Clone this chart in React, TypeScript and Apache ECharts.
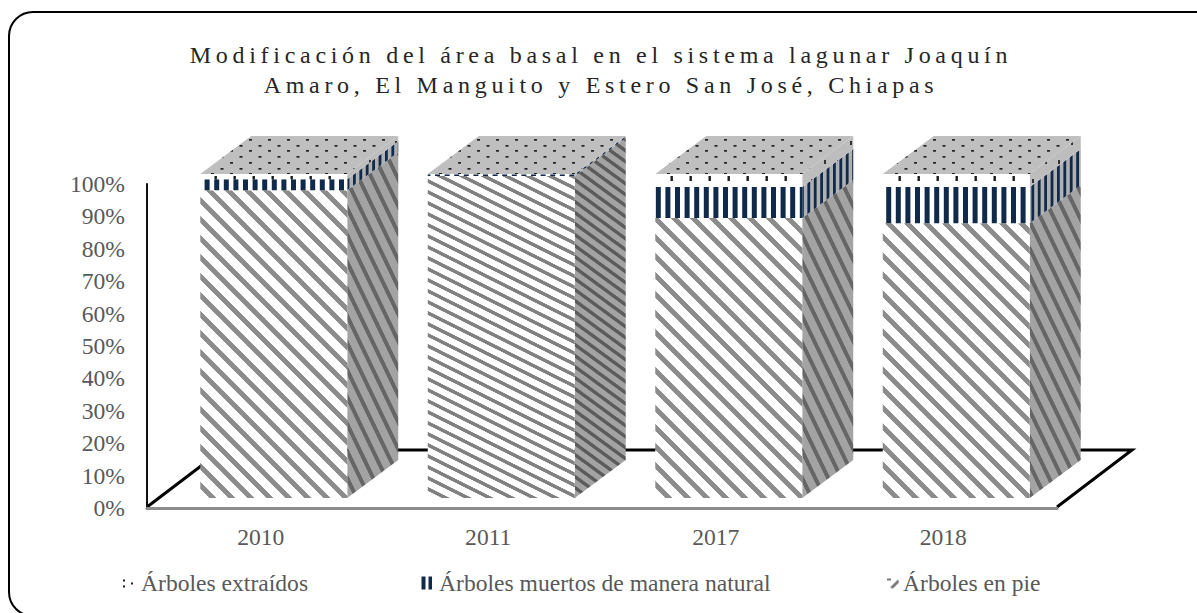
import React, { useEffect, useRef } from "react";
import * as echarts from "echarts";

const categories = ["2010", "2011", "2017", "2018"];
const enPie = [95, 99.4, 86.4, 84.8];
const muertos = [3.4, 0.5, 9.6, 11.2];
const extraidos = [1.6, 0.1, 4, 4];
const seriesNames = ["Árboles extraídos", "Árboles muertos de manera natural", "Árboles en pie"];
const titleLines = ["Modificación del área basal en el sistema lagunar Joaquín", "Amaro, El Manguito y Estero San José, Chiapas"];

const FLATTER = 1; // the 2011 column has a denser hatch in the reference

function tile(w: number, h: number, draw: (c: CanvasRenderingContext2D) => void) {
  const cv = document.createElement("canvas");
  cv.width = w;
  cv.height = h;
  const c = cv.getContext("2d")!;
  draw(c);
  return cv;
}
function stripes(w: number, h: number, bg: string, fg: string, lw: number) {
  return tile(w, h, (c) => {
    c.fillStyle = bg;
    c.fillRect(0, 0, w, h);
    c.strokeStyle = fg;
    c.lineWidth = lw;
    for (let i = -2; i <= 2; i++) {
      for (let j = -2; j <= 2; j++) {
        c.beginPath();
        c.moveTo(i * w - w, j * h - h);
        c.lineTo(i * w + 2 * w, j * h + 2 * h);
        c.stroke();
      }
    }
  });
}
function vbars(w: number, h: number, count: number, start: number, bg: string, fg: string, bw: number) {
  return tile(w, h, (c) => {
    c.fillStyle = bg;
    c.fillRect(0, 0, w, h);
    c.fillStyle = fg;
    for (let k = 0; k < count; k++) c.fillRect(start + (k * w) / count, 0, bw, h);
  });
}

export default function App() {
  const ref = useRef<HTMLDivElement>(null);
  useEffect(() => {
    document.body.style.margin = "0";
    const chart = echarts.init(ref.current!, undefined, { renderer: "svg" });

    const NAVY = "#0f2a4a";
    const frontA = stripes(19, 19, "#ffffff", "#8c8c8c", 4.5);
    const frontB = stripes(22, 11, "#ffffff", "#808080", 3);
    const sideA = stripes(13, 27, "#a3a3a3", "#666666", 3.5);
    const sideB = stripes(15, 11, "#a3a3a3", "#5c5c5c", 3);
    const frontM = vbars(48, 8, 5, 3, "#ffffff", NAVY, 5);
    const sideM = vbars(32, 8, 5, 1, "#b0b0b0", NAVY, 2.8);
    const frontE = tile(19, 19, (c) => {
      c.fillStyle = "#ffffff";
      c.fillRect(0, 0, 19, 19);
      c.fillStyle = "#1a1a1a";
      c.fillRect(5.5, 5, 2.4, 5);
    });
    const sideE = tile(13, 19, (c) => {
      c.fillStyle = "#bdbdbd";
      c.fillRect(0, 0, 13, 19);
      c.fillStyle = "#333333";
      c.fillRect(5, 8, 2, 4);
    });
    const topT = tile(19, 23, (c) => {
      c.fillStyle = "#bfbfbf";
      c.fillRect(0, 0, 19, 23);
      c.fillStyle = "#222222";
      const pts = [[2, 1], [11.5, 7], [2, 12], [11.5, 18]];
      for (const p of pts) c.fillRect(p[0], p[1], 3, 1.7);
    });
    const legendE = tile(12, 13, (c) => {
      c.fillStyle = "#ffffff";
      c.fillRect(0, 0, 12, 13);
      c.fillStyle = "#222222";
      c.fillRect(1, 3, 2, 2);
      c.fillRect(1, 9, 2, 2);
      c.fillRect(9, 6, 2, 2);
    });
    const legendM = vbars(14, 13, 2, 1.5, "#ffffff", NAVY, 4);
    const legendP = tile(12, 13, (c) => {
      c.fillStyle = "#ffffff";
      c.fillRect(0, 0, 12, 13);
      c.fillStyle = "#777777";
      c.fillRect(0, 2, 4, 2);
      c.beginPath();
      c.moveTo(11, 3);
      c.lineTo(12, 6);
      c.lineTo(6, 12);
      c.lineTo(3, 11);
      c.closePath();
      c.fill();
    });
    const pat = (image: any, x: number, y: number) => ({ image, repeat: "repeat", x, y } as any);

    const DX = 51;
    const DY = -38;
    const OX = 13;
    const OY = -10;

    const segmentSeries = (name: string, idx: number) => ({
      name,
      type: "custom",
      coordinateSystem: "cartesian2d",
      silent: true,
      clip: false,
      z: 5 - idx,
      encode: { x: 0, y: [1, 2] },
      data: categories.map((_, i) => {
        const base = idx === 0 ? enPie[i] + muertos[i] : idx === 1 ? enPie[i] : 0;
        const v = idx === 0 ? extraidos[i] : idx === 1 ? muertos[i] : enPie[i];
        return [i, base, base + v];
      }),
      renderItem: (params: any, api: any) => {
        const i = api.value(0);
        const lo = api.coord([i, api.value(1)]);
        const hi = api.coord([i, api.value(2)]);
        const band = api.size([1, 0])[0];
        const w = band * 0.646;
        const x0 = lo[0] - w / 2 + OX;
        const x1 = x0 + w;
        const y0 = lo[1] + OY;
        const y1 = hi[1] + OY;
        let front: any;
        let side: any;
        if (idx === 2) {
          front = pat(i === FLATTER ? frontB : frontA, x0, y0);
          side = pat(i === FLATTER ? sideB : sideA, x1, y0);
        } else if (idx === 1) {
          front = pat(frontM, x0, y0);
          side = pat(sideM, x1, y0);
        } else {
          front = pat(frontE, x0, y1);
          side = pat(sideE, x1, y1);
        }
        const children: any[] = [
          {
            type: "polygon",
            shape: { points: [[x1, y0], [x1 + DX, y0 + DY], [x1 + DX, y1 + DY], [x1, y1]] },
            style: { fill: side },
          },
          {
            type: "rect",
            shape: { x: x0, y: y1, width: w, height: y0 - y1 },
            style: { fill: front },
          },
        ];
        if (idx === 0) {
          children.push({
            type: "polygon",
            shape: { points: [[x0, y1], [x1, y1], [x1 + DX, y1 + DY], [x0 + DX, y1 + DY]] },
            style: { fill: pat(topT, x0, y1) },
          });
        }
        return { type: "group", children };
      },
    });

    const LABEL = "#595959";
    const FONT = "'Liberation Serif', 'Times New Roman', serif";
    const FS = 23.6;
    const legendPads = [
      [0, 0, 0, 2],
      [0, 0, 0, 2],
      [0, 0, 0, -1],
    ];
    const legendLefts = [117, 415, 882];

    chart.setOption({
      animation: false,
      textStyle: { fontFamily: FONT },
      title: {
        text: titleLines.join("\n"),
        left: 596,
        top: 35,
        textAlign: "center",
        textStyle: {
          fontFamily: FONT,
          fontSize: 24,
          fontWeight: "normal",
          color: "#262626",
          lineHeight: 30,
        },
      },
      legend: seriesNames.map((name, k) => ({
        data: [
          {
            name,
            itemStyle: { color: pat(k === 0 ? legendE : k === 1 ? legendM : legendP, 0, 0) },
          },
        ],
        left: legendLefts[k],
        top: 566,
        icon: "rect",
        itemWidth: 12,
        itemHeight: 13,
        selectedMode: false,
        textStyle: { fontFamily: FONT, fontSize: FS, color: LABEL, padding: legendPads[k] },
      })),
      grid: { left: 147, right: 140, top: 184, bottom: 105 },
      xAxis: {
        type: "category",
        data: categories,
        axisTick: { show: false },
        axisLine: { show: true, lineStyle: { color: "#8c8c8c", width: 3 } },
        axisLabel: { color: LABEL, fontSize: FS, fontFamily: FONT, margin: 17 },
      },
      yAxis: {
        type: "value",
        min: 0,
        max: 100,
        interval: 10,
        axisTick: { show: false },
        splitLine: { show: false },
        axisLine: { show: true, lineStyle: { color: "#111111", width: 2 } },
        axisLabel: { color: LABEL, fontSize: FS, fontFamily: FONT, margin: 22, padding: [2, 0, 0, 0], formatter: "{value}%" },
      },
      graphic: [
        {
          type: "rect",
          shape: { x: 9, y: 12, width: 1300, height: 604, r: 24 },
          style: { fill: "none", stroke: "#000000", lineWidth: 2 },
          silent: true,
        },
        {
          type: "polyline",
          shape: { points: [[147, 507], [222, 450], [1132, 450], [1057, 507]] },
          style: { fill: "none", stroke: "#000000", lineWidth: 3 },
          silent: true,
        },
      ],
      series: seriesNames.map((n, k) => segmentSeries(n, k)),
    } as any);

    const root = ref.current!;
    root.querySelectorAll("text").forEach((t) => {
      const s = t.textContent || "";
      if (titleLines.some((l) => s.includes(l))) (t as any).style.letterSpacing = "4.7px";
    });

    return () => chart.dispose();
  }, []);
  return <div ref={ref} style={{ position: "absolute", left: 0, top: 0, width: 1197, height: 613, overflow: "hidden" }} />;
}
